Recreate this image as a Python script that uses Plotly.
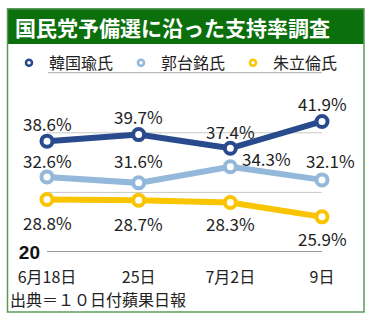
import plotly.graph_objects as go

dates = ["6月18日", "25日", "7月2日", "9日"]
names = ["韓国瑜氏", "郭台銘氏", "朱立倫氏"]
han = [38.6, 39.7, 37.4, 41.9]
guo = [32.6, 31.6, 34.3, 32.1]
chu = [28.8, 28.7, 28.3, 25.9]
series = [han, guo, chu]
grid_vals = [30, 40]
colors = ["#2a4a8e", "#94b8d9", "#f8c500"]
title = "国民党予備選に沿った支持率調査"
source = "出典＝１０日付蘋果日報"

W, H = 370, 321
L, R_DATA, R_PLOT, T, B = 47, 322, 364, 102.5, 252.5
YMIN, YMAX = 20, 45
XMAX = 3 * (R_PLOT - L) / (R_DATA - L)

def px(x):
    return (x - L) / (R_PLOT - L)

def py(y):
    return (B - y) / (B - T)

FONT = "Noto Sans CJK JP"
xs = list(range(len(dates)))
fig = go.Figure()

# label offsets (style only)
offsets = [
    [(0, 18), (0, 18), (0, 17), (0, 18)],
    [(0, 16), (0, 22), (36, 8), (8, 19)],
    [(0, -23), (0, -23), (0, -21), (0, -22)],
]

for name, vals, col in zip(names, series, colors):
    fig.add_trace(go.Scatter(
        x=xs, y=vals, mode="lines+markers", name=name, showlegend=False,
        line=dict(color=col, width=6),
        marker=dict(size=11, color="white", line=dict(color=col, width=4)),
        cliponaxis=False,
    ))

for name, col in zip(names, colors):
    fig.add_trace(go.Scatter(
        x=[None], y=[None], mode="markers", name=name,
        marker=dict(size=6, color="white", line=dict(color=col, width=2.5)),
    ))

for vals, offs in zip(series, offsets):
    for i, (v, (dx, dy)) in enumerate(zip(vals, offs)):
        fig.add_annotation(x=xs[i], y=v, text=f"{v}%", showarrow=False,
                           xshift=dx, yshift=dy,
                           font=dict(family=FONT, size=17, color="#222"))

shapes = [
    dict(type="rect", xref="paper", yref="paper", x0=px(7), x1=px(364), y0=py(43), y1=py(7.5),
         fillcolor="#0b6f0b", line=dict(width=0), layer="below"),
    dict(type="rect", xref="paper", yref="paper", x0=px(7.5), x1=px(364), y0=py(313), y1=py(7.5),
         fillcolor="rgba(0,0,0,0)", line=dict(color="#5c9a5c", width=1.5)),
    dict(type="line", xref="paper", yref="paper", x0=px(48), x1=px(322), y0=py(72), y1=py(72),
         line=dict(color="#aaaaaa", width=1)),
]
for g in grid_vals:
    shapes.append(dict(type="line", xref="x", yref="y", x0=xs[0], x1=xs[-1], y0=g, y1=g,
                       line=dict(color="#c8c8c8", width=1), layer="below"))
shapes.append(dict(type="line", xref="x", yref="y", x0=xs[0], x1=xs[-1], y0=YMIN, y1=YMIN,
                   line=dict(color="#333333", width=1), layer="below"))

fig.add_annotation(xref="paper", yref="paper", x=px(13), y=py(25.5), xanchor="left", yanchor="middle",
                   text=f"<b>{title}</b>", showarrow=False,
                   font=dict(family=FONT, size=21, color="white"))
fig.add_annotation(xref="paper", yref="paper", x=px(8), y=py(300), xanchor="left", yanchor="middle",
                   text=source, showarrow=False,
                   font=dict(family=FONT, size=16, color="#222"))

fig.update_layout(
    width=W, height=H,
    margin=dict(l=L, r=W - R_PLOT, t=T, b=H - B),
    paper_bgcolor="white", plot_bgcolor="white",
    shapes=shapes,
    showlegend=True,
    legend=dict(orientation="h", x=px(9), y=py(62), xanchor="left", yanchor="middle",
                font=dict(family=FONT, size=16, color="#222"),
                entrywidth=67, bgcolor="rgba(0,0,0,0)"),
    xaxis=dict(range=[0, XMAX], tickvals=xs, ticktext=dates, showgrid=False, zeroline=False,
               showline=False,
               ticklabelstandoff=14,
               tickfont=dict(family=FONT, size=16, color="#222")),
    yaxis=dict(range=[YMIN, YMAX], tickvals=[YMIN], ticktext=[f"<b>{YMIN}</b>"],
               showgrid=False, zeroline=False,
               ticklabelstandoff=6,
               tickfont=dict(family="Liberation Sans", size=19, color="#111")),
)

fig.write_html("out.html")
